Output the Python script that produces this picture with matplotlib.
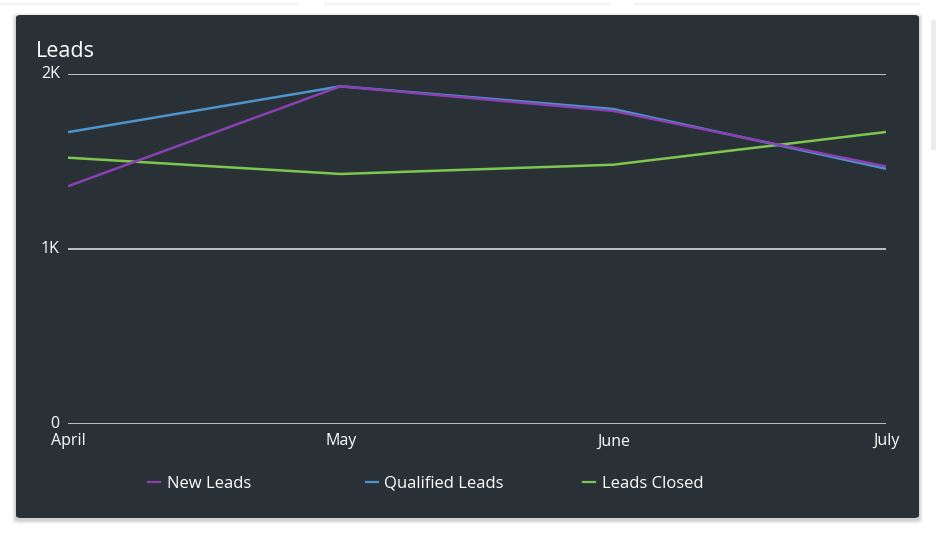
import matplotlib.pyplot as plt
from matplotlib.patches import FancyBboxPatch, Rectangle
from matplotlib.lines import Line2D
from matplotlib.ticker import FuncFormatter

plt.rcParams['font.family'] = ['Open Sans', 'DejaVu Sans']

# data
months = ['April', 'May', 'June', 'July']
new_leads = [1357, 1928, 1787, 1470]
qualified_leads = [1666, 1928, 1798, 1457]
leads_closed = [1520, 1427, 1480, 1667]
series_names = ['New Leads', 'Qualified Leads', 'Leads Closed']
series_colors = ['#8a40b3', '#4b95cc', '#7fc650']

W, H = 936, 538
fig = plt.figure(figsize=(W / 100, H / 100), dpi=100)
fig.patch.set_facecolor('white')

def px(x, y):
    # pixel coords (top-left origin) -> figure fraction
    return x / W, 1 - y / H

# neighbouring cards peeking in at the top
for x0, x1 in [(-10, 300), (322, 612), (632, 922)]:
    for i, a in enumerate([0.05, 0.04, 0.03]):
        fig.patches.append(Rectangle(px(x0 + 2, 4 + i), (x1 - x0 - 4) / W, 1 / H,
                                     transform=fig.transFigure, color='black',
                                     alpha=a, lw=0))
fig.patches.append(Rectangle(px(931, 150), 6 / W, 130 / H, transform=fig.transFigure,
                             color='#ececec', lw=0))

# card shadow + card
for i, a in enumerate([0.03, 0.04, 0.05, 0.06]):
    d = 4 - i
    x, y = px(16 - d, 518 + d + 2)
    fig.patches.append(FancyBboxPatch((x, y), (903 + 2 * d) / W, (503 + 2 * d) / H,
                                      boxstyle='round,pad=0,rounding_size=0.006',
                                      transform=fig.transFigure, color='black',
                                      alpha=a, lw=0))
x, y = px(16, 518)
fig.patches.append(FancyBboxPatch((x, y), 903 / W, 503 / H,
                                  boxstyle='round,pad=0,rounding_size=0.005',
                                  transform=fig.transFigure, color='#293137', lw=0))

fig.text(*px(36, 51.5), 'Leads', color='white', fontsize=15.5, va='center', ha='left')

l, b = px(68, 423.7)
ax = fig.add_axes([l, b, (886 - 68) / W, 350 / H])
ax.set_zorder(5)
ax.set_facecolor('none')
for s in ax.spines.values():
    s.set_visible(False)

xs = range(len(months))
# new leads is drawn on top in the reference
for vals, c, z in zip([new_leads, qualified_leads, leads_closed], series_colors, [5, 4, 3]):
    ax.plot(xs, vals, color=c, lw=1.8, solid_capstyle='butt', zorder=z)

ax.set_xlim(0, len(months) - 1)
ax.set_ylim(0, 2000)
ax.set_yticks([0, 1000, 2000])
ax.yaxis.set_major_formatter(FuncFormatter(lambda v, p: '0' if v == 0 else f'{int(v / 1000)}K'))
ax.set_xticks(list(xs))
ax.set_xticklabels(months)
ax.tick_params(length=0, colors='white', labelsize=11.5)
ax.tick_params(axis='y', pad=6)
ax.tick_params(axis='x', pad=7)
ax.grid(axis='y', color='#d9d9d9', lw=1.2, zorder=1)
ax.grid(axis='x', visible=False)
ax.set_axisbelow(True)
for lab in ax.get_yticklabels():
    lab.set_verticalalignment('center')

# legend
for i, (name, c) in enumerate(zip(series_names, series_colors)):
    x0 = 148 + i * 217.5
    xa, ya = px(x0, 482)
    xb, _ = px(x0 + 12, 482)
    fig.lines.append(Line2D([xa, xb], [ya, ya], transform=fig.transFigure, color=c, lw=1.6))
    fig.text(*px(x0 + 19, 483.5), name, color='white', fontsize=12, va='center', ha='left')

fig.savefig('out.png', dpi=100, facecolor='white')
